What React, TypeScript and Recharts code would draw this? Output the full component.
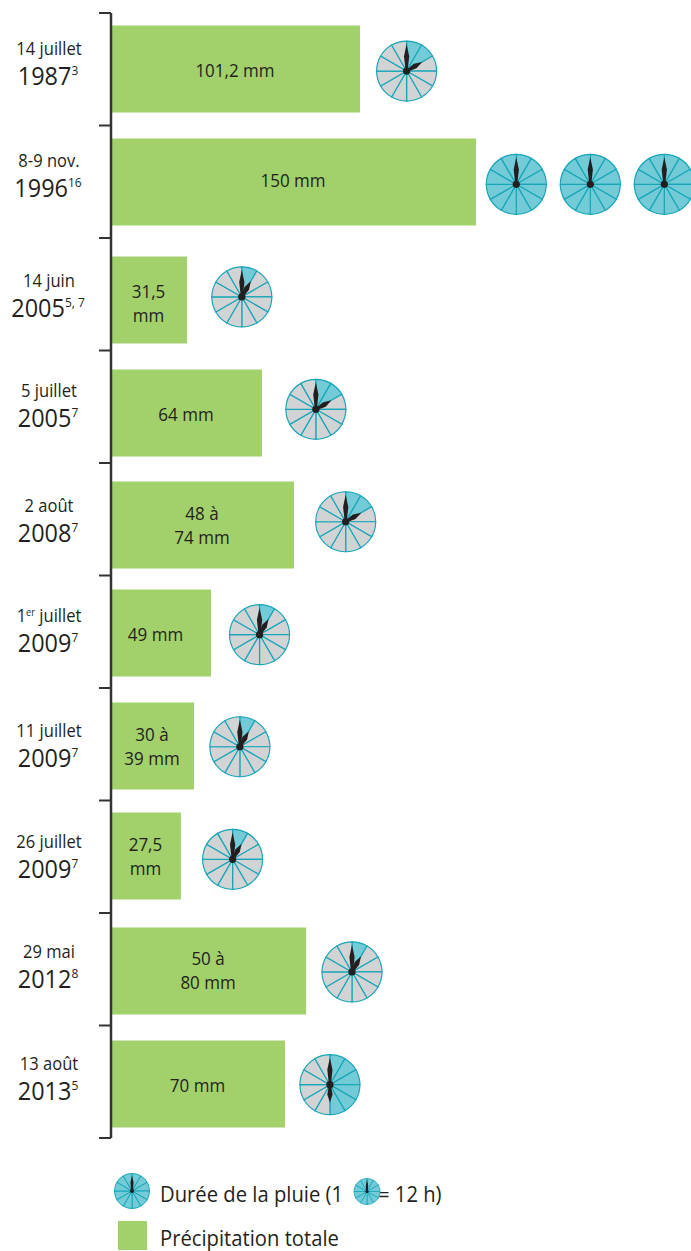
import { Bar, ComposedChart, Legend, Scatter, Sector, XAxis, YAxis } from "recharts";

// bar length in mm, row = position in row units
const barMm = [102.2, 150, 30.9, 61.8, 75, 40.8, 33.8, 28.4, 80, 71.3];
const barRow = [0.493, 1.498, 2.547, 3.551, 4.547, 5.507, 6.511, 7.489, 8.511, 9.516];
const barText = [
  ["101,2 mm"],
  ["150 mm"],
  ["31,5", "mm"],
  ["64 mm"],
  ["48 à", "74 mm"],
  ["49 mm"],
  ["30 à", "39 mm"],
  ["27,5", "mm"],
  ["50 à", "80 mm"],
  ["70 mm"],
];
const textNudge = [-1, -4, 3, -1, 0, -1, 0, 0, -1, -1];

const dayLabels = ["14 juillet", "8-9 nov.", "14 juin", "5 juillet", "2 août", "1|er| juillet", "11 juillet", "26 juillet", "29 mai", "13 août"];
const yearLabels = ["1987", "1996", "2005", "2005", "2008", "2009", "2009", "2009", "2012", "2013"];
const yearNotes = ["3", "16", "5, 7", "7", "7", "7", "7", "7", "8", "5"];
const labelShift = [0.5, 0.5, 8, 5.5, 8, 5.5, 8, 6, 4, 3];
const rowTicks = [0, 1, 2, 3, 4, 5, 6, 7, 8, 9, 10];

// one entry per clock, hours = rainy sectors on that clock
const clockX = [121.4, 166.6, 197.1, 227.6, 53.5, 84.0, 96.3, 60.8, 52.7, 49.7, 98.9, 89.8];
const clockRow = [0.516, 1.523, 1.523, 1.523, 2.524, 3.523, 4.522, 5.526, 6.522, 7.523, 8.524, 9.526];
const clockHours = [2, 12, 12, 12, 1, 2, 2, 1, 1, 1, 1, 6];

const rows = barMm.map((mm, i) => ({ mm, row: barRow[i], text: barText[i] }));
const clocks = clockX.map((x, i) => ({ x, row: clockRow[i], hours: clockHours[i] }));

const FONT = "'Open Sans', sans-serif";
const INK = "#231f20";
const GREEN = "#a2d06a";
const TEAL = "#17a6b8";
const WET = "#74cbd8";
const DRY = "#d1d3d4";
const SQUEEZE = 0.92;

function Txt({ x, y, size, anchor = "middle", children }: any) {
  return (
    <text
      transform={`translate(${x},${y}) scale(${SQUEEZE},1)`}
      fontFamily={FONT}
      fontSize={size}
      fill={INK}
      textAnchor={anchor}
    >
      {children}
    </text>
  );
}

function hand(cx: number, cy: number, deg: number, len: number, w: number) {
  const a = (deg * Math.PI) / 180;
  const ux = Math.sin(a);
  const uy = -Math.cos(a);
  const pt = (along: number, side: number) =>
    `${cx + ux * along - uy * side},${cy + uy * along + ux * side}`;
  return [pt(0, -1), pt(len * 0.55, -w), pt(len, 0), pt(len * 0.55, w), pt(0, 1)].join(" ");
}

function Clock({ cx, cy, r, hours, sw = 1.2 }: any) {
  const k = r / 30;
  return (
    <g>
      {Array.from({ length: 12 }).map((_, h) => (
        <Sector
          key={h}
          cx={cx}
          cy={cy}
          innerRadius={0}
          outerRadius={r}
          startAngle={90 - 30 * h}
          endAngle={90 - 30 * (h + 1)}
          fill={h < hours ? WET : DRY}
          stroke={TEAL}
          strokeWidth={sw}
        />
      ))}
      <polygon points={hand(cx, cy, 0, 27 * k, 2.6 * k)} fill={INK} />
      {hours < 12 && <polygon points={hand(cx, cy, hours * 30, 18 * k, 2.6 * k)} fill={INK} />}
      <circle cx={cx} cy={cy} r={3.6 * k} fill={INK} />
    </g>
  );
}

function DateTick({ x, y, payload }: any) {
  const i = payload.value;
  if (i >= dayLabels.length) return null;
  const c = y + 56.25 + labelShift[i];
  const [a, sup, b] = dayLabels[i].split("|");
  return (
    <g>
      <Txt x={49} y={c - 15} size={18}>
        {a}
        {sup && (
          <tspan fontSize={10} dy={-6}>
            {sup}
          </tspan>
        )}
        {b && <tspan dy={6}>{b}</tspan>}
      </Txt>
      <Txt x={48} y={c + 15} size={25.5}>
        {yearLabels[i]}
        <tspan fontSize={13} dy={-10}>
          {yearNotes[i]}
        </tspan>
      </Txt>
    </g>
  );
}

function BarText({ x, y, width, height, index }: any) {
  const lines = rows[index].text;
  const cx = x + width / 2 - 1 - (index === 5 ? 5 : 0);
  const cy = y + height / 2 + textNudge[index];
  if (lines.length === 1) {
    return (
      <Txt x={cx} y={cy + 9} size={18.5}>
        {lines[0]}
      </Txt>
    );
  }
  return (
    <g>
      <Txt x={cx} y={cy - 5} size={18.5}>
        {lines[0]}
      </Txt>
      <Txt x={cx} y={cy + 19} size={18.5}>
        {lines[1]}
      </Txt>
    </g>
  );
}

function Key() {
  return (
    <svg width={691} height={91} style={{ display: "block" }}>
      <Clock cx={132} cy={31} r={17.5} hours={12} sw={1} />
      <Txt x={160} y={42} size={22} anchor="start">
        Durée de la pluie (1
      </Txt>
      <Txt x={378} y={42} size={22} anchor="start">
        = 12 h)
      </Txt>
      <Clock cx={367} cy={31.5} r={13} hours={12} sw={0.8} />
      <rect x={118} y={61} width={29} height={29} fill={GREEN} />
      <Txt x={160} y={86} size={22} anchor="start">
        Précipitation totale
      </Txt>
    </svg>
  );
}

export default function App() {
  return (
    <div style={{ position: "absolute", left: 0, top: 0, width: 691, height: 1251, overflow: "hidden" }}>
      <ComposedChart
        width={691}
        height={1251}
        layout="vertical"
        data={rows}
        margin={{ top: 13, right: 0, bottom: 22, left: 0 }}
      >
        <XAxis type="number" hide domain={[-0.41, 238.6]} allowDataOverflow />
        <XAxis xAxisId="clock" type="number" dataKey="x" hide domain={[-0.41, 238.6]} allowDataOverflow />
        <YAxis
          type="number"
          dataKey="row"
          domain={[0, 10]}
          ticks={rowTicks}
          interval={0}
          width={111}
          axisLine={{ stroke: "#333333", strokeWidth: 2.5 }}
          tickLine={{ stroke: "#333333", strokeWidth: 2 }}
          tickSize={12}
          tick={<DateTick />}
        />
        <YAxis yAxisId="clock" type="number" dataKey="row" hide domain={[0, 10]} />
        <Legend
          verticalAlign="bottom"
          height={91}
          wrapperStyle={{ left: 0, bottom: 0, width: 691, height: 91 }}
          content={<Key />}
        />
        <Bar dataKey="mm" fill={GREEN} barSize={87} isAnimationActive={false} label={<BarText />} />
        <Scatter
          xAxisId="clock"
          yAxisId="clock"
          data={clocks}
          isAnimationActive={false}
          shape={(p: any) => <Clock cx={p.cx} cy={p.cy} r={30} hours={p.payload.hours} />}
        />
      </ComposedChart>
    </div>
  );
}
